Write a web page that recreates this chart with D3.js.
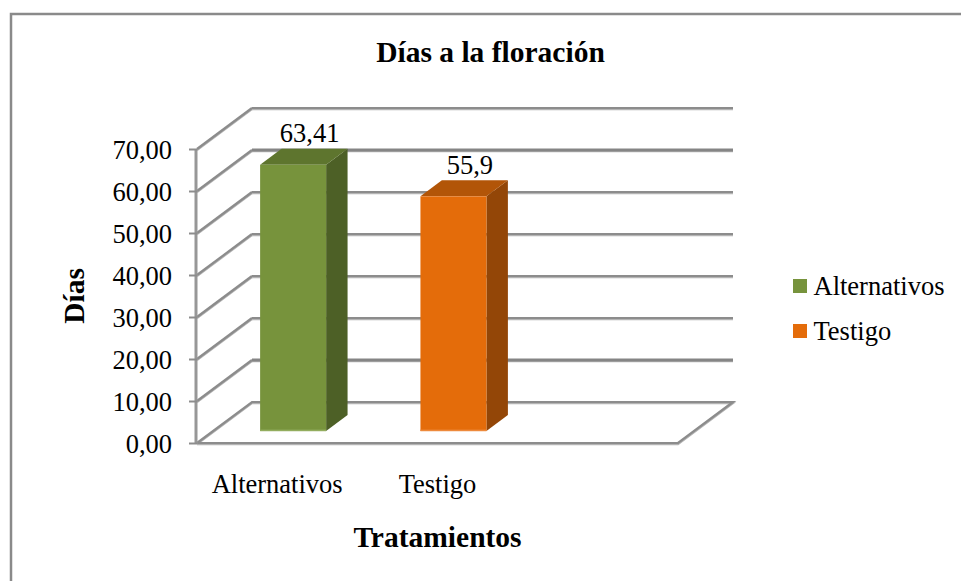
<!DOCTYPE html>
<html><head><meta charset="utf-8">
<script src="https://cdnjs.cloudflare.com/ajax/libs/d3/7.8.5/d3.min.js"></script>
<style>html,body{margin:0;padding:0;background:#fff}svg{display:block}text{font-family:"Liberation Serif",serif;fill:#000}</style>
</head><body><svg id="c" width="961" height="581"></svg>
<script>
const categories = ["Alternativos","Testigo",""];
const seriesNames = ["Alternativos","Testigo"];
const seriesValues = [63.41,55.9];
const valueLabels = ["63,41","55,9"];
const yTicks = [0,10,20,30,40,50,60,70];
const yTickLabels = ["0,00","10,00","20,00","30,00","40,00","50,00","60,00","70,00"];
const frontColors = ["#77933c","#e46c0a"];
const topColors = ["#5e752e","#b25508"];
const sideColors = ["#4d6026","#934607"];
const baseColors = ["#93ad5e","#ee8a3c"];

const svg = d3.select("#c");
const X0=197,X1=678,Y0=443,Y70=149,DX=55,DY=-41;
const x = d3.scaleBand().domain(categories).range([X0,X1]);
const y = d3.scaleLinear().domain([0,70]).range([Y0,Y70]);
const line = d3.line();

function gl(p,w,col){
  svg.append("path").attr("d",line(p.map(d=>[d[0],d[1]+1.2]))).attr("fill","none").attr("stroke","#b4b4b4").attr("stroke-width",2);
  svg.append("path").attr("d",line(p)).attr("fill","none").attr("stroke",col||"#8c8c8c").attr("stroke-width",w||2.2);
}
// frame
svg.append("path").attr("d",line([[11,581],[11,14],[961,14]])).attr("fill","none").attr("stroke","#8a8a8a").attr("stroke-width",2.5);

// walls
yTicks.forEach(t=>{
  if(t===0){
    gl([[X0,y(0)],[X0+DX,y(0)+DY],[X1+DX,y(0)+DY],[X1,y(0)],[X0,y(0)]]);
  } else {
    gl([[X0,y(t)],[X0+DX,y(t)+DY]]);
    if(t===60||t===10) gl([[X0+DX,y(t)+DY],[X1+DX,y(t)+DY]],3,"#858585");
    else gl([[X0+DX,y(t)+DY],[X1+DX,y(t)+DY]]);
  }
});
// value axis
svg.append("path").attr("d",line([[X0-1,y(70)],[X0-1,y(0)+1]])).attr("fill","none").attr("stroke","#979797").attr("stroke-width",3);
const axis = d3.axisLeft(y).tickValues(yTicks).tickFormat((d,i)=>yTickLabels[i]).tickSize(8).tickPadding(2);
const ga = svg.append("g").attr("transform",`translate(${X0},0)`).call(axis);
ga.select(".domain").remove();
ga.selectAll("line").attr("stroke","#8c8c8c").attr("stroke-width",2);
ga.selectAll("text").attr("font-size",26.5).attr("font-family","Liberation Serif").attr("x",-25).attr("dy","0.35em").attr("fill","#000");

// bars
const F0=0.29,FD=0.39,BW=66;
const bdx=DX*FD, bdy=DY*FD;
seriesValues.forEach((v,i)=>{
  const c=categories[i];
  const bx=x(c)+x.bandwidth()/2-BW/2+DX*F0;
  const by=y(0)+DY*F0, ty=y(v)+DY*F0;
  svg.append("path").attr("fill",sideColors[i]).attr("d",line([[bx+BW,ty],[bx+BW+bdx,ty+bdy],[bx+BW+bdx,by+bdy],[bx+BW,by]])+"Z");
  svg.append("path").attr("fill",topColors[i]).attr("d",line([[bx,ty],[bx+bdx,ty+bdy],[bx+BW+bdx,ty+bdy],[bx+BW,ty]])+"Z");
  svg.append("rect").attr("x",bx).attr("y",ty).attr("width",BW).attr("height",by-ty).attr("fill",frontColors[i]);
  svg.append("rect").attr("x",bx).attr("y",by-1.5).attr("width",BW).attr("height",1.5).attr("fill",baseColors[i]);
  svg.append("text").attr("x",bx+BW/2+bdx-5).attr("y",ty+bdy-6.5).attr("text-anchor","middle").attr("font-size",26.5).text(valueLabels[i]);
});

// category labels
categories.forEach(c=>{
  svg.append("text").attr("x",x(c)+x.bandwidth()/2).attr("y",493).attr("text-anchor","middle").attr("font-size",26.5).text(c);
});
// titles
svg.append("text").attr("x",490.5).attr("y",62).attr("text-anchor","middle").attr("font-size",29.5).attr("font-weight","bold").text("Días a la floración");
svg.append("text").attr("x",437.5).attr("y",547).attr("text-anchor","middle").attr("font-size",29.5).attr("font-weight","bold").text("Tratamientos");
svg.append("text").attr("transform","translate(84,296) rotate(-90)").attr("text-anchor","middle").attr("font-size",29.5).attr("font-weight","bold").text("Días");
// legend
seriesNames.forEach((s,i)=>{
  const ly=[279,324][i];
  svg.append("rect").attr("x",793).attr("y",ly).attr("width",14).attr("height",14).attr("fill",frontColors[i]);
  svg.append("text").attr("x",813.5).attr("y",ly+16).attr("font-size",26.5).text(s);
});
</script></body></html>
